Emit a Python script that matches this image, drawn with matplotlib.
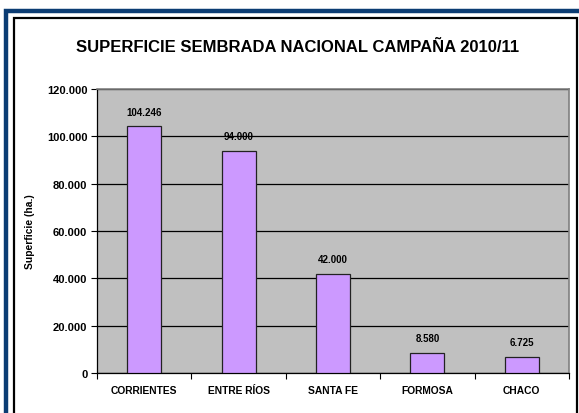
import matplotlib
matplotlib.use("Agg")
import matplotlib.pyplot as plt
from matplotlib.patches import Rectangle
from matplotlib.ticker import FuncFormatter, FixedLocator

categories = ["CORRIENTES", "ENTRE RÍOS", "SANTA FE", "FORMOSA", "CHACO"]
values = [104246, 94000, 42000, 8580, 6725]
labels = ["104.246", "94.000", "42.000", "8.580", "6.725"]
title = "SUPERFICIE SEMBRADA NACIONAL CAMPAÑA 2010/11"
ylabel = "Superficie (ha.)"

W, H = 579, 414
plt.rcParams['font.family'] = ['Liberation Sans', 'DejaVu Sans']
fig = plt.figure(figsize=(W / 100, H / 100), dpi=100)
fig.patch.set_facecolor("white")

def fx(px):
    return px / W

def fy(py):
    return 1 - py / H

# outer blue frame
fig.add_artist(Rectangle((fx(6), fy(440)), fx(620), (440 - 12) / H,
                         transform=fig.transFigure, fill=False,
                         edgecolor="#0B3C73", linewidth=3.2, zorder=0))
# inner black frame
fig.add_artist(Rectangle((fx(14), fy(440)), fx(577 - 14), (440 - 19) / H,
                         transform=fig.transFigure, fill=False,
                         edgecolor="black", linewidth=1.6, zorder=0))

ax = fig.add_axes([fx(97), fy(374), fx(569 - 97), (374 - 90) / H])
ax.set_facecolor("#C0C0C0")

x = list(range(len(categories)))
ax.bar(x, values, width=0.36, color="#CC99FF", edgecolor="#222222",
       linewidth=0.9, zorder=3)
for xi, v, lab in zip(x, values, labels):
    ax.annotate(lab, (xi, v), xytext=(0, 7), textcoords="offset points",
                ha="center", va="bottom", fontsize=7, fontweight="bold")

ax.set_xlim(-0.5, len(categories) - 0.5)
ax.set_ylim(0, 120000)
ax.yaxis.set_major_locator(FixedLocator(range(0, 120001, 20000)))
ax.yaxis.set_major_formatter(FuncFormatter(lambda v, p: f"{int(v):,}".replace(",", ".")))
ax.grid(axis="y", color="black", linewidth=0.9, zorder=1)
ax.set_axisbelow(True)

ax.set_xticks([i - 0.5 for i in range(len(categories) + 1)], minor=False)
ax.set_xticklabels([])
ax.set_xticks(x, minor=True)
ax.set_xticklabels(categories, minor=True)
ax.tick_params(axis="x", which="minor", length=0, pad=9, labelsize=7.4)
ax.tick_params(axis="x", which="major", length=4, width=0.8, direction="out")
ax.tick_params(axis="y", length=4, width=0.8, direction="out", labelsize=8, pad=3)
for lab in ax.get_xticklabels(minor=True) + ax.get_yticklabels():
    lab.set_fontweight("bold")

for s in ["top", "right"]:
    ax.spines[s].set_color("#808080")
    ax.spines[s].set_linewidth(1.2)
for s in ["left", "bottom"]:
    ax.spines[s].set_color("black")
    ax.spines[s].set_linewidth(0.9)

ax.set_ylabel(ylabel, fontsize=7.4, fontweight="bold")
ax.yaxis.set_label_coords((35 - 97) / (569 - 97), 0.5)

fig.text(fx(298), fy(47), title, ha="center", va="center",
         fontsize=12, fontweight="bold")

fig.savefig("out.png", dpi=100)
